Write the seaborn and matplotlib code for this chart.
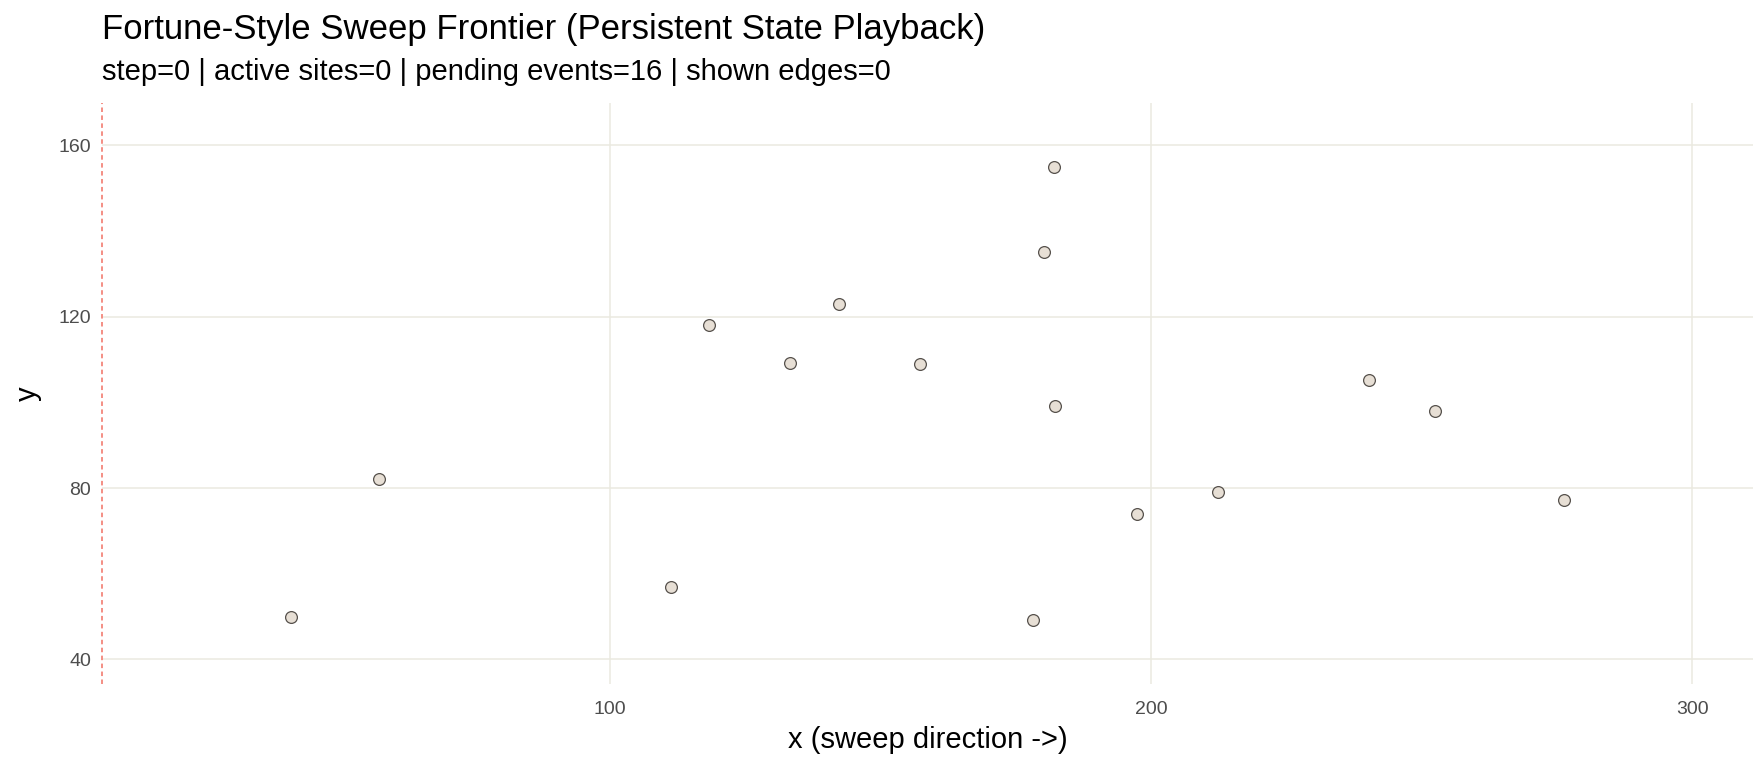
import numpy as np
import pandas as pd
import matplotlib
matplotlib.use("Agg")
import matplotlib.pyplot as plt
import seaborn as sns

# Sites waiting to be swept
site_x = [41.1, 57.2, 111.3, 118.2, 133.2, 142.2, 157.2, 180.2,
          182.0, 182.3, 178.1, 197.3, 212.3, 240.3, 252.4, 276.2]
site_y = [50.0, 82.0, 57.0, 118.0, 109.1, 123.0, 109.0, 135.0,
          154.9, 99.2, 49.2, 74.0, 79.0, 105.2, 98.0, 77.2]

step = 0
active_sites = 0
pending_events = 16
shown_edges = 0

pad_x = 35
pad_y = 15

sites = pd.DataFrame({"x": site_x, "y": site_y})

sns.set_theme()
sns.set_style("white")
plt.rcParams['font.family'] = ['Liberation Sans', 'DejaVu Sans']

grid_col = "#ebe9e0"

fig, ax = plt.subplots(figsize=(17.6, 7.68), dpi=100)
fig.subplots_adjust(left=0.058, right=0.996, top=0.866, bottom=0.109)

x_lo = sites["x"].min() - pad_x
x_hi = sites["x"].max() + pad_x
y_lo = sites["y"].min() - pad_y
y_hi = sites["y"].max() + pad_y

# sweep line sits at the left edge at step 0
sweep_x = x_lo

ax.set_xlim(x_lo, x_hi)
ax.set_ylim(y_lo, y_hi)
ax.set_xticks([100, 200, 300])
ax.set_yticks([40, 80, 120, 160])

ax.grid(True, color=grid_col, linewidth=1.1)
ax.set_axisbelow(True)

ax.axvline(sweep_x, color="#f3867b", linestyle=(0, (2.5, 1.9)), linewidth=1.3,
           zorder=2, clip_on=False)

sns.scatterplot(data=sites, x="x", y="y", ax=ax, s=72,
                color="#e7dfd5", edgecolor="#55504b", linewidth=0.9, zorder=3)

for sp in ax.spines.values():
    sp.set_visible(False)

ax.tick_params(axis="x", length=0, labelsize=14, labelcolor="#4d4d4d", pad=12)
ax.tick_params(axis="y", length=0, labelsize=14, labelcolor="#4d4d4d", pad=8)
ax.set_xlabel("x (sweep direction ->)", fontsize=21, color="black", labelpad=5.5)
ax.set_ylabel("y", fontsize=21, color="black", labelpad=12)

fig.text(0.058, 0.962, "Fortune-Style Sweep Frontier (Persistent State Playback)",
         fontsize=25, ha="left", va="center", color="black")
fig.text(0.058, 0.906,
         f"step={step} | active sites={active_sites} | pending events={pending_events} | shown edges={shown_edges}",
         fontsize=21, ha="left", va="center", color="black")

fig.savefig("out.png", dpi=100)
